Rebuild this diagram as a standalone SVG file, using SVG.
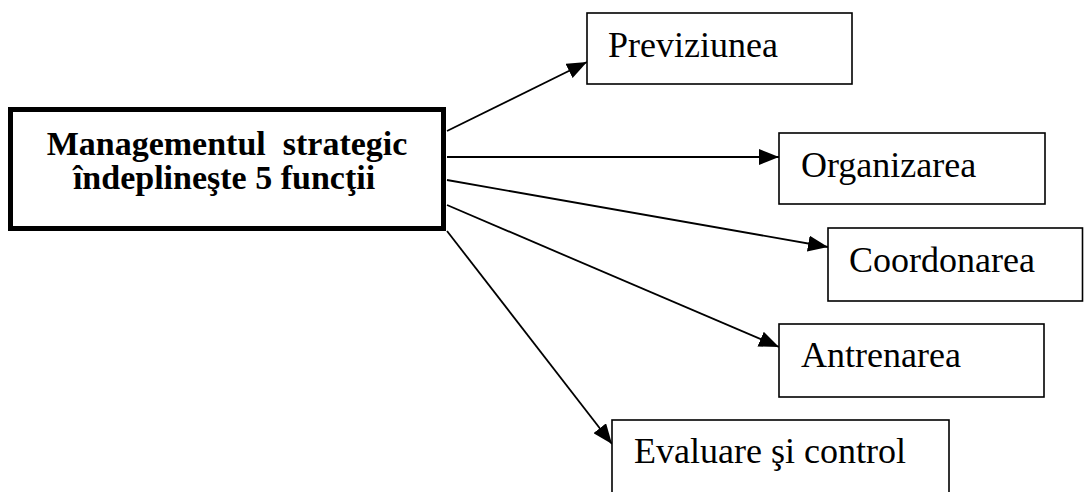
<svg xmlns="http://www.w3.org/2000/svg" width="1084" height="492" viewBox="0 0 1084 492">
<style>
.box{fill:#fff;stroke:#000;stroke-width:1.6}
.main{fill:#fff;stroke:#000;stroke-width:5}
.lbl{font-family:"Liberation Serif","Times New Roman",serif;font-size:36px;fill:#000}
.mlbl{font-family:"Liberation Serif","Times New Roman",serif;font-size:34px;font-weight:bold;fill:#000;text-anchor:middle}
.conn{stroke:#000;stroke-width:1.8;fill:none;marker-end:url(#arr)}
</style>
<defs>
<marker id="arr" markerUnits="userSpaceOnUse" markerWidth="22" markerHeight="16" refX="20" refY="8" orient="auto">
<path d="M0,0 L20,8 L0,16 Z" fill="#000"/>
</marker>
</defs>
<rect width="1084" height="492" fill="#fff"/>
<g id="connectors">
<line class="conn" x1="447" y1="131" x2="587" y2="62"/>
<line class="conn" x1="447" y1="157" x2="779" y2="157"/>
<line class="conn" x1="447" y1="180" x2="828" y2="247"/>
<line class="conn" x1="447" y1="205" x2="779" y2="347"/>
<line class="conn" x1="447" y1="231" x2="612" y2="444"/>
</g>
<g id="main">
<rect class="main" x="10.5" y="109.5" width="433" height="119"/>
<text class="mlbl" x="227" y="155" xml:space="preserve">Managementul  strategic</text>
<text class="mlbl" x="224" y="189">îndeplineşte 5 funcţii</text>
</g>
<g id="previziunea">
<rect class="box" x="587" y="13" width="265" height="71"/>
<text class="lbl" x="608" y="57">Previziunea</text>
</g>
<g id="organizarea">
<rect class="box" x="779" y="133" width="266" height="71"/>
<text class="lbl" x="801" y="177">Organizarea</text>
</g>
<g id="coordonarea">
<rect class="box" x="828" y="228" width="254.5" height="73"/>
<text class="lbl" x="849" y="272">Coordonarea</text>
</g>
<g id="antrenarea">
<rect class="box" x="779" y="324" width="265" height="73"/>
<text class="lbl" x="801" y="367">Antrenarea</text>
</g>
<g id="evaluare">
<rect class="box" x="612" y="420" width="337" height="76"/>
<text class="lbl" x="634" y="463">Evaluare şi control</text>
</g>
</svg>
